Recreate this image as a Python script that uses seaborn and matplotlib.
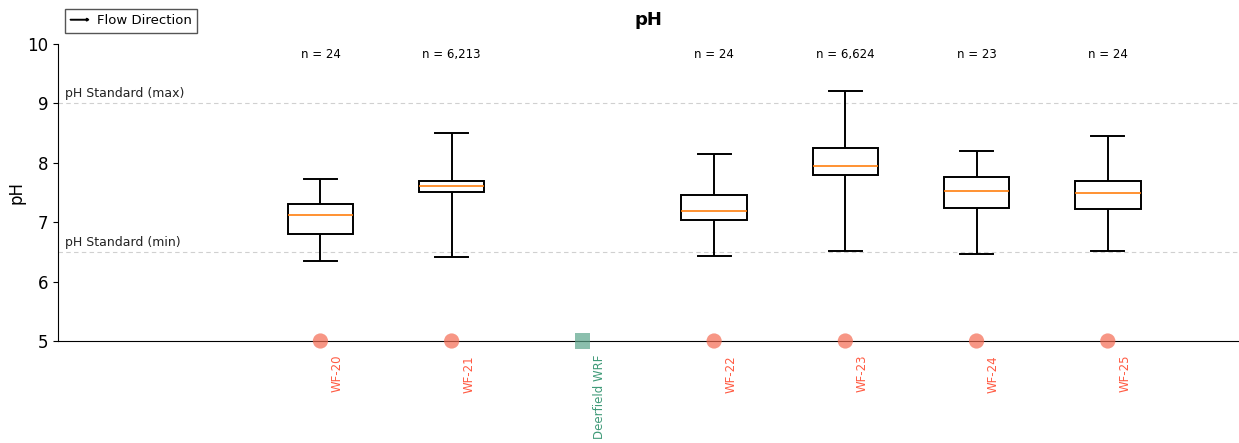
import numpy as np
import pandas as pd
import matplotlib
matplotlib.use("Agg")
import matplotlib.pyplot as plt
import matplotlib.patches as mpatches
import matplotlib.transforms as mtransforms
from matplotlib.legend_handler import HandlerPatch
import seaborn as sns

# ---------------- data ----------------
stations = ["WF-20", "WF-21", "Deerfield WRF", "WF-22", "WF-23", "WF-24", "WF-25"]
station_type = ["well", "well", "wrf", "well", "well", "well", "well"]
whisker_low = [6.35, 6.41, None, 6.43, 6.51, 6.47, 6.51]
q1 = [6.80, 7.50, None, 7.03, 7.80, 7.24, 7.23]
median = [7.12, 7.61, None, 7.19, 7.95, 7.53, 7.49]
q3 = [7.31, 7.70, None, 7.45, 8.25, 7.76, 7.69]
whisker_high = [7.73, 8.50, None, 8.14, 9.21, 8.20, 8.45]
n_counts = [24, 6213, None, 24, 6624, 23, 24]
ph_std_min = 6.5
ph_std_max = 9.0
y_ticks = [5, 6, 7, 8, 9, 10]

# long table: the five-number summary per station
rows = []
for s, lo, a, m, b, hi in zip(stations, whisker_low, q1, median, q3, whisker_high):
    if lo is None:
        continue
    for v in (lo, a, m, b, hi):
        rows.append({"station": s, "pH": v})
df = pd.DataFrame(rows)

# ---------------- figure ----------------
W, H, DPI = 1239, 443, 100
fig = plt.figure(figsize=(W / DPI, H / DPI), dpi=DPI)
ax = fig.add_axes([58 / W, 1 - 341 / H, (W - 58) / W, 297 / H])

well_color = "#f46a52"
well_text = "#ff5a42"
wrf_color = "#5aa58a"
wrf_text = "#3f9a78"

sns.boxplot(data=df, x="station", y="pH", order=stations, whis=(0, 100),
            width=0.5, color="white", linecolor="black", linewidth=1.4,
            showfliers=False, saturation=1,
            medianprops=dict(color="#ff7f0e", linewidth=1.2), ax=ax)

idx = np.arange(len(stations))
sdf = pd.DataFrame({"x": idx, "y": [5.0] * len(stations), "type": station_type})
sns.scatterplot(data=sdf, x="x", y="y", hue="type", style="type",
                palette={"well": well_color, "wrf": wrf_color},
                markers={"well": "o", "wrf": "s"}, s=120, alpha=0.7,
                edgecolor="none", legend=False, clip_on=False, zorder=5, ax=ax)

# standards
ax.axhline(ph_std_max, color="#d0d0d0", linestyle="--", linewidth=0.8, dashes=(4, 3), zorder=0)
ax.axhline(ph_std_min, color="#d0d0d0", linestyle="--", linewidth=0.8, dashes=(4, 3), zorder=0)
blend = mtransforms.blended_transform_factory(ax.transAxes, ax.transData)
blend_off = mtransforms.offset_copy(blend, fig=fig, x=0, y=3, units="dots")
ax.text(0.006, ph_std_max, "pH Standard (max)", transform=blend_off,
        ha="left", va="bottom", fontsize=9, color="#222222")
ax.text(0.006, ph_std_min, "pH Standard (min)", transform=blend_off,
        ha="left", va="bottom", fontsize=9, color="#222222")

# n labels
for i, n in enumerate(n_counts):
    if n is None:
        continue
    ax.text(i, 9.82, f"n = {n:,}", ha="center", va="center", fontsize=8.5)

# station labels
lab_tr = mtransforms.offset_copy(ax.transData, fig=fig, x=17, y=-14, units="dots")
for i, (s, t) in enumerate(zip(stations, station_type)):
    ax.text(i, 5.0, s, transform=lab_tr, rotation=90, ha="center", va="top",
            fontsize=8.5, color=well_text if t == "well" else wrf_text,
            clip_on=False)

ax.set_xlim(-2, 7)
ax.set_ylim(5, 10)
ax.set_yticks(y_ticks)
ax.tick_params(axis="y", labelsize=12)
ax.set_xticks([])
ax.set_xlabel("")
ax.set_ylabel("pH", fontsize=12, labelpad=1)
for sp in ("top", "right"):
    ax.spines[sp].set_visible(False)
ax.set_title("pH", fontweight="bold", fontsize=13, pad=14)


def make_arrow(legend, orig_handle, xdescent, ydescent, width, height, fontsize):
    return mpatches.FancyArrow(0, 0.5 * height, width, 0, width=0.3,
                               length_includes_head=True, head_width=0.3 * height,
                               head_length=0.25 * height, color="black")


arrow_handle = mpatches.FancyArrow(0, 0, 1, 0, color="black")
fig.legend([arrow_handle], ["Flow Direction"], loc="upper left",
           bbox_to_anchor=(65 / W, 1 - 9 / H), borderaxespad=0, fancybox=False,
           edgecolor="#555555", framealpha=1, fontsize=9.5, handlelength=1.4,
           handletextpad=0.6, borderpad=0.4,
           handler_map={mpatches.FancyArrow: HandlerPatch(patch_func=make_arrow)})

fig.savefig("out.png", dpi=DPI)
